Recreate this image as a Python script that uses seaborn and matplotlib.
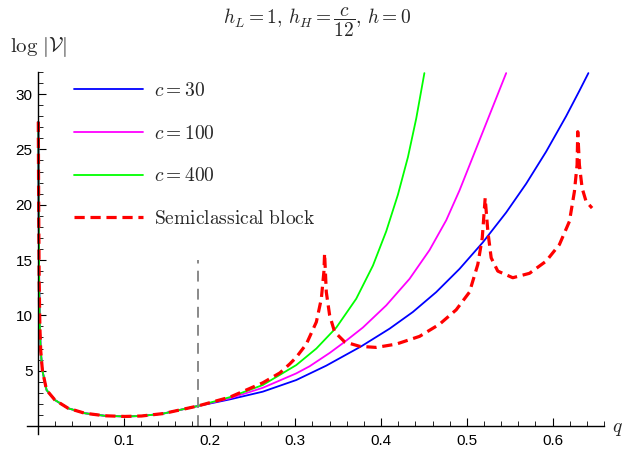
import matplotlib
matplotlib.use("Agg")
import matplotlib.pyplot as plt
import seaborn as sns
import pandas as pd
from matplotlib.ticker import MultipleLocator

# shared part of all four curves (they coincide for small q)
q_common = [0.0002, 0.0006, 0.0012, 0.002, 0.003, 0.005, 0.0098, 0.0195, 0.035,
            0.0544, 0.0777, 0.101, 0.1205, 0.146, 0.186]
v_common = [27.5, 20.0, 13.0, 9.0, 6.8, 5.0, 3.25, 2.35, 1.6,
            1.15, 0.92, 0.86, 0.9, 1.12, 1.8]

# c = 30
q_c30 = [0.2235, 0.262, 0.301, 0.336, 0.3769, 0.41, 0.437, 0.4643, 0.4915,
         0.5187, 0.5459, 0.5692, 0.5925, 0.6158, 0.6313, 0.6418]
v_c30 = [2.4, 3.1, 4.15, 5.45, 7.2, 8.8, 10.3, 12.1, 14.2,
         16.6, 19.3, 21.9, 24.8, 28.0, 30.3, 31.9]

# c = 100
q_c100 = [0.2235, 0.262, 0.301, 0.3167, 0.34, 0.3575, 0.3788, 0.406, 0.4332,
          0.4565, 0.476, 0.4915, 0.5187, 0.5459]
v_c100 = [2.5, 3.45, 4.75, 5.4, 6.6, 7.6, 8.9, 10.9, 13.3,
          15.9, 18.6, 21.3, 26.6, 31.9]

# c = 400
q_c400 = [0.2235, 0.262, 0.301, 0.3245, 0.3478, 0.371, 0.3905, 0.406, 0.4196,
          0.4313, 0.441, 0.4505]
v_c400 = [2.6, 3.7, 5.5, 7.0, 8.9, 11.5, 14.5, 17.6, 20.9,
          24.3, 27.8, 31.9]

# semiclassical block
q_semi = [0.2235, 0.262, 0.282, 0.2934, 0.301, 0.3128, 0.3245, 0.3303, 0.3333,
          0.3341, 0.3361, 0.34, 0.3458, 0.3575, 0.3749, 0.3944, 0.4177, 0.4449,
          0.4682, 0.4876, 0.5031, 0.5128, 0.518, 0.5214, 0.5245, 0.5284, 0.5361,
          0.5536, 0.5731, 0.5925, 0.608, 0.6197, 0.6255, 0.6286, 0.6294, 0.6313,
          0.6345, 0.6391, 0.6461]
v_semi = [2.6, 3.9, 4.8, 5.6, 6.2, 7.4, 9.4, 11.5, 13.95,
          15.6, 12.1, 10.0, 8.5, 7.6, 7.2, 7.1, 7.4, 8.1,
          9.2, 10.5, 12.1, 14.6, 17.0, 20.6, 17.6, 15.2, 14.0,
          13.4, 13.8, 14.9, 16.4, 18.5, 21.2, 23.6, 26.6, 23.6,
          21.5, 20.3, 19.7]

q_marker = 0.186
v_marker = 15.0

x_ticks = [0.1, 0.2, 0.3, 0.4, 0.5, 0.6]
y_ticks = [5, 10, 15, 20, 25, 30]

series = [
    ("$c=30$", q_c30, v_c30, "#0000ff"),
    ("$c=100$", q_c100, v_c100, "#ff00ff"),
    ("$c=400$", q_c400, v_c400, "#00ff00"),
]

sns.set_style("white")
plt.rcParams["mathtext.fontset"] = "cm"
plt.rcParams["font.family"] = ["Liberation Sans", "DejaVu Sans"]

fig = plt.figure(figsize=(6.26, 4.54), dpi=100)
ax = fig.add_axes([27 / 626, (454 - 433.7) / 454, 577 / 626, 361.7 / 454])

for name, qs, vs, col in series:
    df = pd.DataFrame({"q": q_common + qs, "v": v_common + vs})
    sns.lineplot(data=df, x="q", y="v", ax=ax, color=col, lw=1.3,
                 estimator=None, sort=False, label=name)

df_semi = pd.DataFrame({"q": q_common + q_semi, "v": v_common + v_semi})
sns.lineplot(data=df_semi, x="q", y="v", ax=ax, color="#ff0000", lw=2.3,
             estimator=None, sort=False,
             label=r"$\mathrm{Semiclassical\ block}$")
ax.lines[-1].set_dashes((3.2, 1.8))

ax.vlines(q_marker, 0, v_marker, color="#808080", lw=1.3,
          linestyles=(0, (6, 4)))

ax.set_xlim(-0.013, 0.66)
ax.set_ylim(-0.7, 32)

# Mathematica-style axes through the origin
for side in ["top", "right"]:
    ax.spines[side].set_visible(False)
ax.spines["left"].set_position(("data", 0))
ax.spines["bottom"].set_position(("data", 0))
for side in ["left", "bottom"]:
    ax.spines[side].set_color("black")
    ax.spines[side].set_linewidth(1.0)

ax.set_xticks(x_ticks)
ax.set_xticklabels([f"{t:.1f}" for t in x_ticks])
ax.set_yticks(y_ticks)
ax.set_yticklabels([str(t) for t in y_ticks])
ax.xaxis.set_minor_locator(MultipleLocator(0.02))
ax.yaxis.set_minor_locator(MultipleLocator(1))
ax.tick_params(which="both", direction="in", colors="black", labelsize=11,
               bottom=True, left=True)
ax.tick_params(which="major", length=6, width=0.8)
ax.tick_params(which="minor", length=3.5, width=0.6)
ax.tick_params(axis="x", pad=6)
ax.tick_params(axis="y", pad=4)
ax.set_xlabel("")
ax.set_ylabel("")

leg = ax.legend(loc="upper left", bbox_to_anchor=(74 / 626, 1 - 82 / 454),
                bbox_transform=fig.transFigure, frameon=False, fontsize=14,
                handlelength=3.55, handletextpad=0.55, labelspacing=1.27,
                borderpad=0, borderaxespad=0)

fig.text(317 / 626, 1 - 22 / 454, r"$h_L=1,\, h_H=\dfrac{c}{12},\, h=0$",
         ha="center", va="center", fontsize=14)
fig.text(10 / 626, 1 - 47 / 454, r"$\log\,|\mathcal{V}|$",
         ha="left", va="center", fontsize=15)
fig.text(612 / 626, 1 - 430 / 454, r"$q$", ha="left", va="center", fontsize=14)

fig.savefig("out.png", dpi=100)
